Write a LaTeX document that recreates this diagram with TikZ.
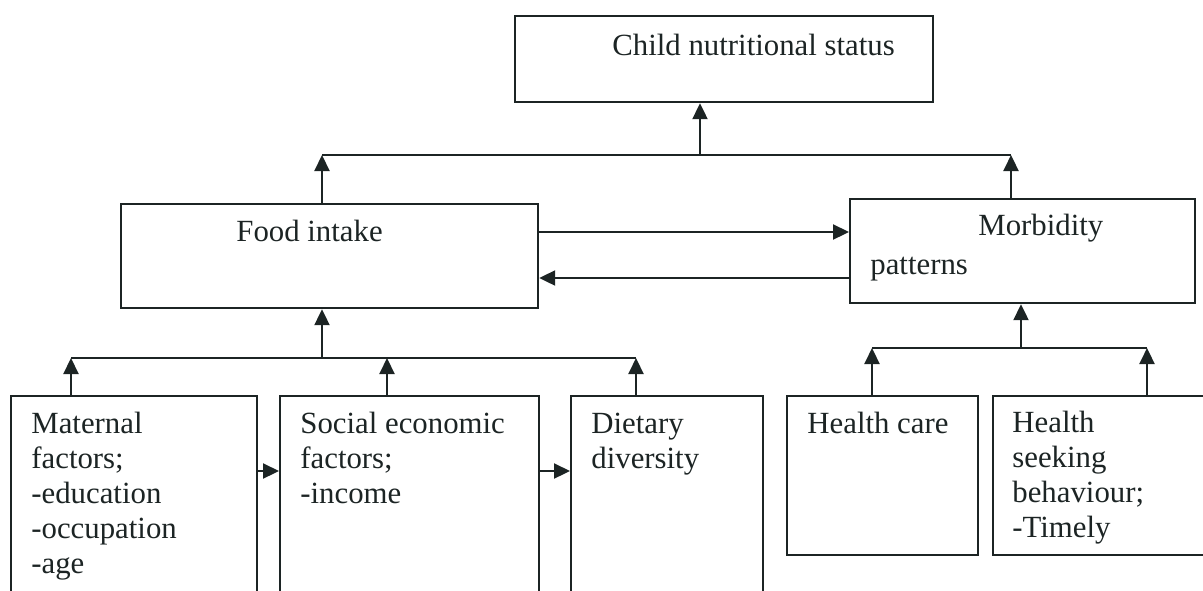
\documentclass[tikz,border=0pt]{standalone}
\usepackage{fontspec}
\setmainfont{Liberation Serif}
\usetikzlibrary{arrows.meta}
\definecolor{ink}{HTML}{1C2424}
\begin{document}
\begin{tikzpicture}[x=0.5pt,y=-0.5pt,
  box/.style={draw=ink,line width=1.1pt,rectangle,inner sep=0pt,anchor=north west},
  txt/.style={inner sep=0pt,anchor=base west,text=ink,font=\fontsize{15.4pt}{17.5pt}\selectfont},
  link/.style={draw=ink,line width=1.1pt},
  arr/.style={draw=ink,line width=1.1pt,-{Triangle[length=8pt,width=7.5pt]}}]
\useasboundingbox (0,0) rectangle (1203,590);
\clip (0,0) rectangle (1203,590);
% boxes
\node[box,minimum width=209pt,minimum height=43pt] (top) at (514,15) {};
\node[box,minimum width=208.5pt,minimum height=52pt] (food) at (120,203) {};
\node[box,minimum width=172.5pt,minimum height=52pt] (morb) at (849,198) {};
\node[box,minimum width=123pt,minimum height=105pt] (mat) at (10,395) {};
\node[box,minimum width=129.5pt,minimum height=105pt] (soc) at (279,395) {};
\node[box,minimum width=96pt,minimum height=105pt] (diet) at (570,395) {};
\node[box,minimum width=95.5pt,minimum height=79.5pt] (hc) at (786,395) {};
\node[box,minimum width=115pt,minimum height=79.5pt] (hsb) at (992,395) {};
% texts
\node[txt] (ttop) at (612,55) {Child nutritional status};
\node[txt] (tfood) at (236,241) {Food intake};
\node[txt] (tmorb1) at (978,235) {Morbidity};
\node[txt] (tmorb2) at (870,274) {patterns};
\node[txt] (tmat) at (31,433) {\vtop{\hbox{Maternal}\hbox{factors;}\hbox{-education}\hbox{-occupation}\hbox{-age}}};
\node[txt] (tsoc) at (300,433) {\vtop{\hbox{Social economic}\hbox{factors;}\hbox{-income}}};
\node[txt] (tdiet) at (591,433) {\vtop{\hbox{Dietary}\hbox{diversity}}};
\node[txt] (thc) at (807,433) {Health care};
\node[txt] (thsb) at (1012,432) {\vtop{\hbox{Health}\hbox{seeking}\hbox{behaviour;}\hbox{-Timely}}};
% junction coordinates
\coordinate (jtL) at (322,155);
\coordinate (jtM) at (700,155);
\coordinate (jtR) at (1011,155);
\coordinate (jbL) at (71,358);
\coordinate (jbM) at (322,358);
\coordinate (jbS) at (387,358);
\coordinate (jbR) at (636,358);
\coordinate (jrL) at (872,348);
\coordinate (jrM) at (1021,348);
\coordinate (jrR) at (1147,348);
\coordinate (hu) at (0,232);
\coordinate (hl) at (0,278);
\coordinate (hb) at (0,471);
% top level
\draw[link] (jtL) -- (jtR);
\draw[arr] (jtM) -- (jtM |- top.south);
\draw[arr] (food.north -| jtL) -- (jtL);
\draw[arr] (morb.north -| jtR) -- (jtR);
% between food and morbidity
\draw[arr] (food.east |- hu) -- (morb.west |- hu);
\draw[arr] (morb.west |- hl) -- (food.east |- hl);
% bottom left group
\draw[link] (jbL) -- (jbR);
\draw[arr] (jbM) -- (jbM |- food.south);
\draw[arr] (mat.north -| jbL) -- (jbL);
\draw[arr] (soc.north -| jbS) -- (jbS);
\draw[arr] (diet.north -| jbR) -- (jbR);
\draw[arr] (mat.east |- hb) -- (soc.west |- hb);
\draw[arr] (soc.east |- hb) -- (diet.west |- hb);
% bottom right group
\draw[link] (jrL) -- (jrR);
\draw[arr] (jrM) -- (jrM |- morb.south);
\draw[arr] (hc.north -| jrL) -- (jrL);
\draw[arr] (hsb.north -| jrR) -- (jrR);
\end{tikzpicture}
\end{document}
